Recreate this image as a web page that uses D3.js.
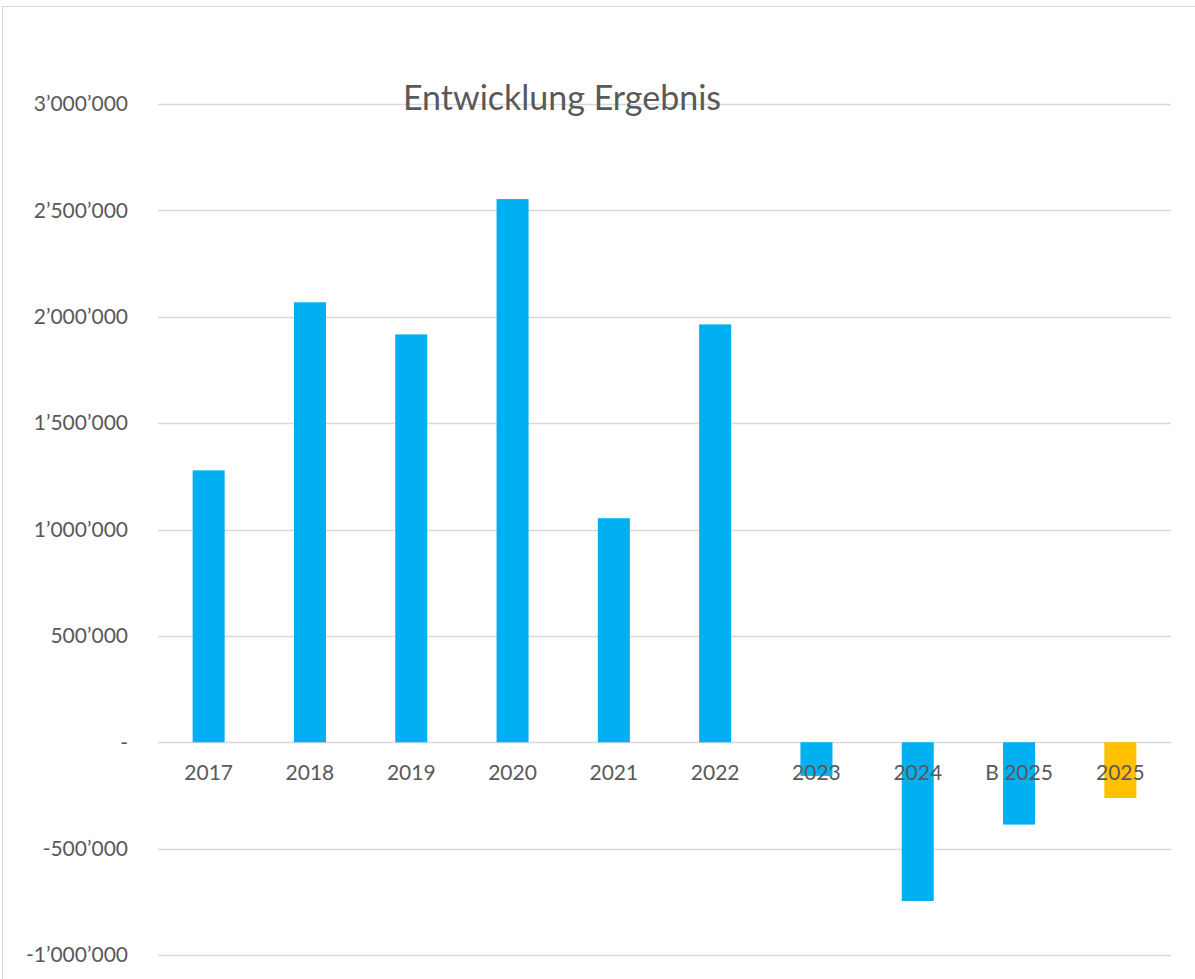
<!DOCTYPE html>
<html>
<head>
<meta charset="utf-8">
<script src="https://cdn.jsdelivr.net/npm/d3@7"></script>
<style>
  body { margin: 0; background: #fff; }
  text { font-family: Lato, "Open Sans", sans-serif; fill: #595959; }
</style>
</head>
<body>
<div id="chart"></div>
<script>
// data
var years = ["2017", "2018", "2019", "2020", "2021", "2022", "2023", "2024", "B 2025", "2025"];
var results = [1278000, 2068000, 1917000, 2553000, 1053000, 1964000, -158000, -746000, -387000, -262000];
var barColors = ["#00B0F0", "#00B0F0", "#00B0F0", "#00B0F0", "#00B0F0", "#00B0F0", "#00B0F0", "#00B0F0", "#00B0F0", "#FFC000"];
var yTicks = [-1000000, -500000, 0, 500000, 1000000, 1500000, 2000000, 2500000, 3000000];
var chartTitle = "Entwicklung Ergebnis";

var W = 1195, H = 979;
var margin = { top: 104, right: 25, bottom: 24, left: 158 };

var svg = d3.select("#chart")
  .append("svg")
  .attr("width", W)
  .attr("height", H);

// outer chart border
svg.append("rect")
  .attr("x", 2.5).attr("y", 6.5)
  .attr("width", W).attr("height", H)
  .attr("fill", "none")
  .attr("stroke", "#d9d9d9")
  .attr("stroke-width", 1);

var g = svg.append("g")
  .attr("transform", "translate(" + margin.left + "," + margin.top + ")");

var x = d3.scaleBand()
  .domain(years)
  .range([0, 1013])
  .paddingInner(0.684)
  .paddingOuter(0.342);

var y = d3.scaleLinear()
  .domain([-1000000, 3000000])
  .range([851, 0]);

var loc = d3.formatLocale({ decimal: ".", thousands: "\u2019", grouping: [3], currency: ["", ""], minus: "-" });
var fmt = loc.format(",d");

// gridlines
g.selectAll("line.grid")
  .data(yTicks)
  .enter()
  .append("line")
  .attr("class", "grid")
  .attr("x1", 0).attr("x2", 1013)
  .attr("y1", function(d) { return Math.round(y(d)) + 0.5; })
  .attr("y2", function(d) { return Math.round(y(d)) + 0.5; })
  .attr("stroke", "#d9d9d9")
  .attr("stroke-width", 1.5);

// y labels
g.selectAll("text.ylab")
  .data(yTicks)
  .enter()
  .append("text")
  .attr("class", "ylab")
  .attr("x", -30)
  .attr("y", function(d) { return y(d); })
  .attr("dy", "0.35em")
  .attr("text-anchor", "end")
  .style("font-size", "21px")
  .text(function(d) { return d === 0 ? "-" : fmt(d); });

// bars
g.selectAll("rect.bar")
  .data(results)
  .enter()
  .append("rect")
  .attr("class", "bar")
  .attr("x", function(d, i) { return x(years[i]); })
  .attr("width", x.bandwidth())
  .attr("y", function(d) { return y(Math.max(0, d)); })
  .attr("height", function(d) { return Math.abs(y(d) - y(0)); })
  .attr("fill", function(d, i) { return barColors[i]; });

// x labels
g.selectAll("text.xlab")
  .data(years)
  .enter()
  .append("text")
  .attr("class", "xlab")
  .attr("x", function(d) { return x(d) + x.bandwidth() / 2; })
  .attr("y", y(0) + 38)
  .attr("text-anchor", "middle")
  .style("font-size", "21px")
  .text(function(d) { return d; });

// title
svg.append("text")
  .attr("x", 562)
  .attr("y", 110)
  .attr("text-anchor", "middle")
  .style("font-size", "34px")
  .text(chartTitle);
</script>
</body>
</html>
